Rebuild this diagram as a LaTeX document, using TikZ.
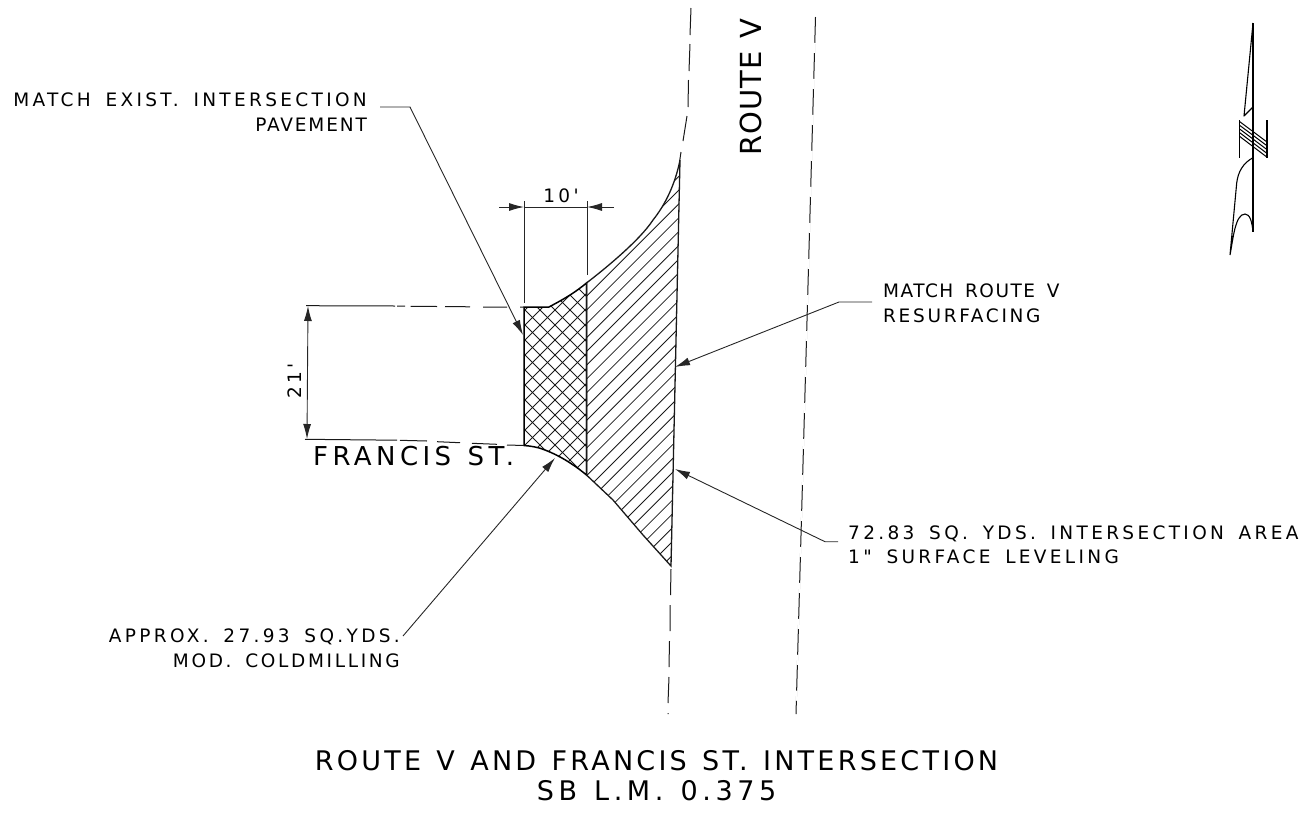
\documentclass[tikz,border=0pt]{standalone}
\usepackage{fontspec}
\setmainfont{DejaVu Sans}
\newfontfamily\smallf[LetterSpace=18,WordSpace=1.6]{DejaVu Sans}
\newfontfamily\lsA[LetterSpace=8,WordSpace=1.6]{DejaVu Sans}
\newfontfamily\lsB[LetterSpace=14.5,WordSpace=1.6]{DejaVu Sans}
\newfontfamily\lsC[LetterSpace=10,WordSpace=1.6]{DejaVu Sans}
\newfontfamily\bigf[LetterSpace=12,WordSpace=1.3]{DejaVu Sans}
\newfontfamily\subf[LetterSpace=17,WordSpace=1.3]{DejaVu Sans}
\newfontfamily\frf[LetterSpace=17,WordSpace=1.3]{DejaVu Sans}
\newfontfamily\rvf[LetterSpace=3,WordSpace=1.3]{DejaVu Sans}
\usetikzlibrary{arrows.meta}
\tikzset{
  lbl/.style={font=\smallf\fontsize{18.5}{24.5}\selectfont,inner sep=0pt,text=black},
  biglbl/.style={font=\bigf\fontsize{27}{30}\selectfont,inner sep=0pt,text=black},
  frlbl/.style={font=\frf\fontsize{26}{30}\selectfont,inner sep=0pt,text=black},
  rvlbl/.style={font=\rvf\fontsize{29}{30}\selectfont,inner sep=0pt,text=black},
  ln/.style={line width=1pt,black!90},
  bold/.style={line width=1.5pt,black},
  dim/.style={line width=0.9pt,black!85},
  tip/.style={-{Latex[length=15pt,width=8pt]},line width=0.9pt},
  tipb/.style={{Latex[length=15pt,width=8pt]}-{Latex[length=15pt,width=8pt]},line width=0.9pt},
  hatchl/.style={line width=0.8pt,black!90},
}
\begin{document}
\begin{tikzpicture}[x=1pt,y=-1pt]
\useasboundingbox (0,0) rectangle (1307,825);
% hatch regions
\def\rightregion{(586.5,283) .. controls (606,268) and (640,240) .. (653,220) .. controls (665,205) and (675,185) .. (680,160) -- (671,566) -- (643,535) -- (613,500) -- (586.5,475) -- cycle}
\def\leftregion{(524,307) -- (549,307) .. controls (560,301) and (572,295) .. (586.5,283) -- (586.5,475) .. controls (572,463) and (558,455) .. (545,450) .. controls (538,447) and (530,446) .. (524,445.5) -- cycle}
\begin{scope}
\clip \rightregion;
\foreach \k in {0,...,45}{
  \draw[hatchl] (560,{171+13.8*\k}) -- (700,{171+13.8*\k-140});
}
\end{scope}
\begin{scope}
\clip \leftregion;
\foreach \k in {0,...,30}{
  \draw[hatchl] (510,{280+15*\k}) -- (600,{280+15*\k-90});
  \draw[hatchl] (510,{100+15*\k}) -- (600,{100+15*\k+90});
}
\end{scope}
\draw[bold] \leftregion;
\draw[ln,line width=1.3pt] \rightregion;
% road edges
\draw[ln] (691,8) -- (690,35) (690,44) -- (689,71) (688.5,80) -- (688,107);
\draw[ln] (687,116) -- (683,141) (681,152) -- (679.5,162);
\draw[ln] (671,569) -- (670.5,595) (670,605) -- (670,631) (669.5,641) -- (669,667) (669,677) -- (668,703) (668,713) -- (668,714);
\draw[ln] (815.5,17) -- (796,714);
\draw[ln,draw=white,line width=2pt,dash pattern=on 10pt off 26pt,dash phase=-26pt] (815.5,17) -- (796,714);
% side road
\draw[ln] (306,305.7) -- (395,306) (397,306) -- (405,306) (410.7,306.3) -- (437,306.5) (445,306.5) -- (470,306.8) (483,307) -- (507,307) (520,307) -- (524,307);
\draw[ln] (305,439.3) -- (397,440.2) (400,440.3) -- (427,441) (437,441.7) -- (460,442.7) (472,443.3) -- (497,444.3) (507,445) -- (524,445.5);
% dimension 21'
\coordinate (a21t) at (308,306);
\coordinate (a21b) at (307,439);
\draw[dim,tipb] (a21t) -- (a21b);
\node[lbl,rotate=90] (t21) at (295,381) {21'};
% dimension 10'
\coordinate (e1t) at (524,201); \coordinate (e1b) at (524,303);
\coordinate (e2t) at (587,201); \coordinate (e2b) at (587,275);
\draw[dim] (e1t) -- (e1b);
\draw[dim] (e2t) -- (e2b);
\coordinate (d1) at (499,207); \coordinate (d1t) at (524,207);
\coordinate (d2) at (614,207); \coordinate (d2t) at (587,207);
\draw[dim,tip] (d1) -- (d1t);
\draw[dim,tip] (d2) -- (d2t);
\draw[dim] (d1t) -- (d2t);
\node[lbl] (t10) at (561,196) {10'};
% labels and leaders
\node[lbl,align=right,anchor=north east] (match) at (367,93) {MATCH EXIST. INTERSECTION\\{\lsC\fontsize{18.5}{24.5}\selectfont PAVEMENT}};
\coordinate (m0) at (380,107); \coordinate (m1) at (410,107); \coordinate (m2) at (523,335);
\draw[dim,tip] (m0) -- (m1) -- (m2);
\node[lbl,align=left,anchor=north west] (route) at (883,284) {{\lsA\fontsize{18.5}{24.5}\selectfont MATCH ROUTE V}\\{\lsB\fontsize{18.5}{24.5}\selectfont RESURFACING}};
\coordinate (r0) at (872,302); \coordinate (r1) at (839,302); \coordinate (r2) at (675,367);
\draw[dim,tip] (r0) -- (r1) -- (r2);
\node[lbl,align=left,anchor=north west] (area) at (848,525.5) {72.83 SQ. YDS. INTERSECTION AREA\\1" SURFACE LEVELING};
\coordinate (s0) at (838,541.7); \coordinate (s1) at (825,541.7); \coordinate (s2) at (675,469);
\draw[dim,tip] (s0) -- (s1) -- (s2);
\node[lbl,align=right,anchor=north east] (mill) at (400,629) {APPROX. 27.93 SQ.YDS.\\{\lsB\fontsize{18.5}{24.5}\selectfont MOD. COLDMILLING}};
\coordinate (c0) at (403,636); \coordinate (c1) at (555,458);
\draw[dim,tip] (c0) -- (c1);
\node[frlbl,anchor=west] (fr) at (313,456) {FRANCIS ST.};
\node[rvlbl,rotate=90] (rv) at (751,87) {ROUTE V};
\node[biglbl,align=center] (title) at (656.5,776) {ROUTE V AND FRANCIS ST. INTERSECTION\\{\subf\fontsize{27}{30}\selectfont SB L.M. 0.375}};
% north arrow
\draw[line width=1.2pt] (1253,23) -- (1253,231.7);
\draw[line width=1.1pt,line join=round] (1253,107) -- (1244,116) -- (1253,23);
\draw[line width=1.1pt] (1239.5,120) -- (1239.5,157.7) (1267,120) -- (1267,157.7);
\foreach \k in {0,...,4}{
  \draw[line width=1pt] (1239.5,{121.5+3.7*\k}) -- (1267,{142+3.8*\k});
}
\draw[line width=1.1pt] (1253,157.7) .. controls (1243,163) and (1238,172) .. (1236.7,183) -- (1230,255) .. controls (1233,240) and (1235,214) .. (1245,214) .. controls (1250,214) and (1252,222) .. (1253,231.7);
\end{tikzpicture}
\end{document}
